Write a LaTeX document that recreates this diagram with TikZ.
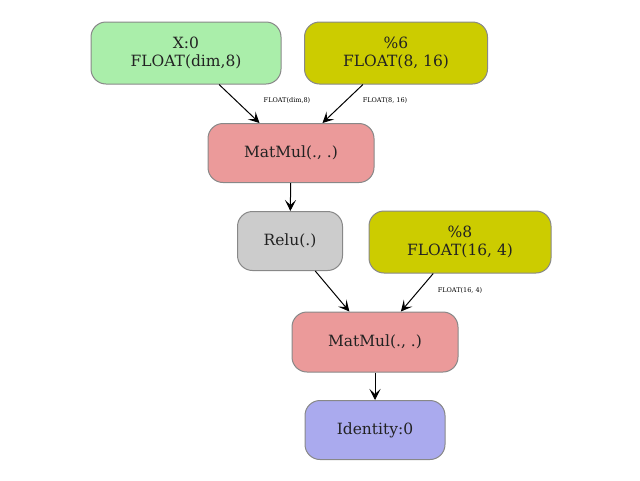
\documentclass[tikz,border=0pt]{standalone}
\usepackage{fontspec}
\setmainfont{DejaVu Serif}
\usetikzlibrary{arrows.meta}
\definecolor{gA}{HTML}{AAEEAA}
\definecolor{yA}{HTML}{CCCC00}
\definecolor{rA}{HTML}{EB9A9A}
\definecolor{grA}{HTML}{CCCCCC}
\definecolor{bA}{HTML}{AAAAEE}
\definecolor{bd}{HTML}{888888}
\definecolor{tx}{HTML}{222222}
\begin{document}
\begin{tikzpicture}[x=1pt,y=-1pt,
  nd/.style={draw=bd,line width=1pt,rounded corners=15pt,align=center,inner sep=0pt,
    font=\fontsize{15.5}{18}\selectfont,text=tx},
  el/.style={font=\fontsize{6.5}{7}\selectfont,inner sep=1pt},
  ar/.style={-{Stealth[length=11pt,width=11pt,inset=5pt]},line width=1pt}]
\useasboundingbox (0,0) rectangle (640,480);
\node[nd,fill=gA,minimum width=190pt,minimum height=62pt] (x) at (186,53) {X:0\\FLOAT(dim,8)};
\node[nd,fill=yA,minimum width=183pt,minimum height=62pt] (p6) at (396,53) {\%6\\FLOAT(8, 16)};
\node[nd,fill=rA,minimum width=166pt,minimum height=59pt] (m1) at (291,153) {MatMul(., .)};
\node[nd,fill=grA,minimum width=105pt,minimum height=59pt] (r) at (290,241) {Relu(.)};
\node[nd,fill=yA,minimum width=182pt,minimum height=62pt] (p8) at (460,242) {\%8\\FLOAT(16, 4)};
\node[nd,fill=rA,minimum width=166pt,minimum height=60pt] (m2) at (375,342) {MatMul(., .)};
\node[nd,fill=bA,minimum width=140pt,minimum height=59pt] (id) at (375,430) {Identity:0};
\draw[ar] (x) -- (m1);
\draw[ar] (p6) -- (m1);
\draw[ar] (m1) -- (r);
\draw[ar] (r) -- (m2);
\draw[ar] (p8) -- (m2);
\draw[ar] (m2) -- (id);
\node[el] (l1) at (287,101) {FLOAT(dim,8)};
\node[el] (l2) at (385,101) {FLOAT(8, 16)};
\node[el] (l3) at (460,291) {FLOAT(16, 4)};
\end{tikzpicture}
\end{document}
